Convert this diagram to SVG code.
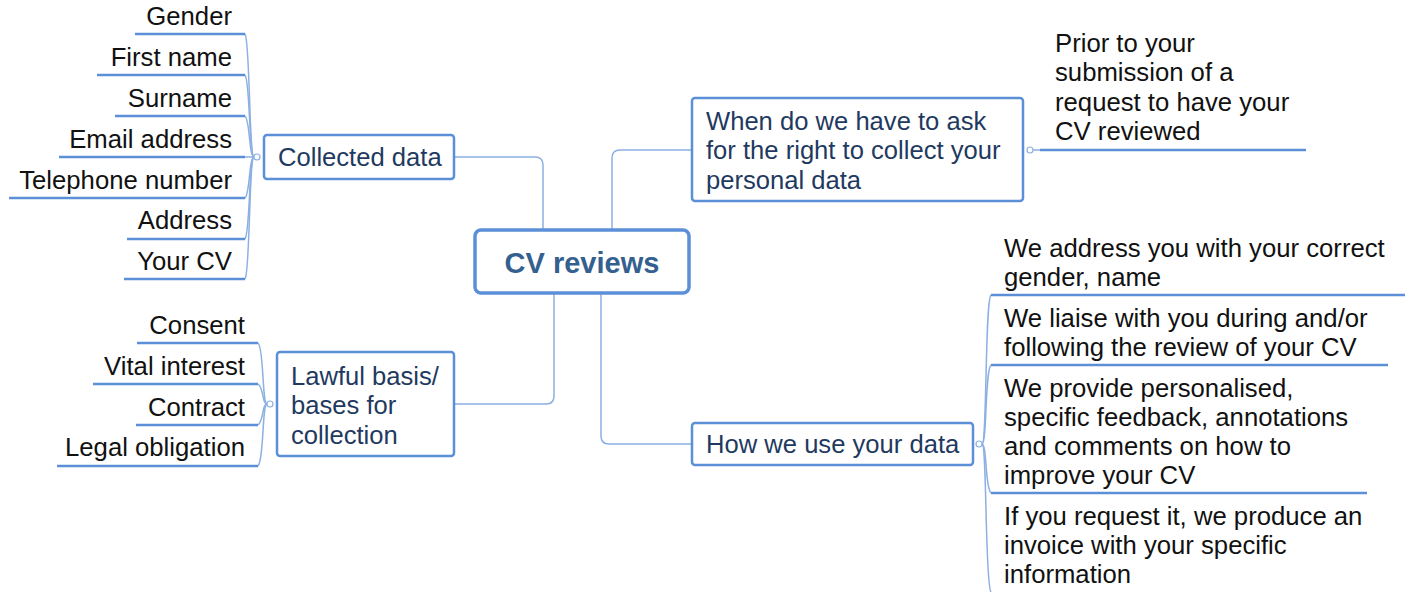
<svg xmlns="http://www.w3.org/2000/svg" width="1411" height="592" viewBox="0 0 1411 592">
<style>
.box{fill:#fff;stroke:#5b8fd8;stroke-width:2.5}
.root{fill:#fff;stroke:#5b8fd8;stroke-width:3.5}
.bt{font-family:"Liberation Sans",Arial,sans-serif;font-size:25.6px;fill:#1f3a60}
.rt{font-family:"Liberation Sans",Arial,sans-serif;font-size:29px;font-weight:bold;fill:#34608f}
.lt{font-family:"Liberation Sans",Arial,sans-serif;font-size:25.7px;fill:#111}
.r{text-anchor:end}
.ul{stroke:#5b8fd8;stroke-width:2.5;fill:none}
.cn{stroke:#8cb0e2;stroke-width:1.5;fill:none}
.dot{fill:#fff;stroke:#8cb0e2;stroke-width:1.2}
</style>
<rect width="1411" height="592" fill="#fff"/>
<g id="connectors">
<path class="cn" d="M454,157 H535 Q543,157 543,165 V230"/>
<path class="cn" d="M692,150 H620 Q612,150 612,158 V230"/>
<path class="cn" d="M454,404 H546 Q554,404 554,396 V293"/>
<path class="cn" d="M692,444 H609 Q601,444 601,436 V293"/>
<path class="cn" d="M254,157 C249,157 250,40 245,34"/>
<path class="cn" d="M254,157 C249,157 250,80 245,75"/>
<path class="cn" d="M254,157 C249,157 250,120 245,116"/>
<path class="cn" d="M254,157 H245"/>
<path class="cn" d="M254,157 C249,157 250,194 245,198"/>
<path class="cn" d="M254,157 C249,157 250,234 245,239"/>
<path class="cn" d="M254,157 C249,157 250,274 245,279"/>
<circle class="dot" cx="257" cy="157" r="3"/>
<path class="cn" d="M267,404 C262,404 264,348 258,343"/>
<path class="cn" d="M267,404 C262,404 264,388 258,384"/>
<path class="cn" d="M267,404 C262,404 264,420 258,425"/>
<path class="cn" d="M267,404 C262,404 264,461 258,466"/>
<circle class="dot" cx="270" cy="404" r="3"/>
<path class="cn" d="M1033,150 H1040"/>
<circle class="dot" cx="1030" cy="150" r="3"/>
<path class="cn" d="M982,444 C987,444 985,300 991,295"/>
<path class="cn" d="M982,444 C987,444 985,370 991,365"/>
<path class="cn" d="M982,444 C987,444 985,488 991,493"/>
<path class="cn" d="M982,444 C987,444 985,585 991,592"/>
<circle class="dot" cx="979" cy="444" r="3"/>
</g>
<g id="root">
<rect class="root" x="475" y="230" width="214" height="63" rx="6"/>
<text class="rt" x="582" y="273" text-anchor="middle">CV reviews</text>
</g>
<g id="collected">
<rect class="box" x="264" y="135" width="190" height="44" rx="3"/>
<text class="bt" x="278" y="166">Collected data</text>
</g>
<g id="when">
<rect class="box" x="692" y="98" width="331" height="103" rx="3"/>
<text class="bt" x="706" y="130">When do we have to ask</text>
<text class="bt" x="706" y="159">for the right to collect your</text>
<text class="bt" x="706" y="189">personal data</text>
</g>
<g id="lawful">
<rect class="box" x="277" y="352" width="177" height="104" rx="3"/>
<text class="bt" x="291" y="385">Lawful basis/</text>
<text class="bt" x="291" y="414">bases for</text>
<text class="bt" x="291" y="444">collection</text>
</g>
<g id="how">
<rect class="box" x="692" y="423" width="281" height="42" rx="3"/>
<text class="bt" x="706" y="453">How we use your data</text>
</g>
<g id="c-gender"><text class="lt r" x="232" y="25">Gender</text><path class="ul" d="M135,34 H245"/></g>
<g id="c-first"><text class="lt r" x="232" y="66">First name</text><path class="ul" d="M97,75 H245"/></g>
<g id="c-surname"><text class="lt r" x="232" y="107">Surname</text><path class="ul" d="M115,116 H245"/></g>
<g id="c-email"><text class="lt r" x="232" y="148">Email address</text><path class="ul" d="M59,157 H245"/></g>
<g id="c-tel"><text class="lt r" x="232" y="189">Telephone number</text><path class="ul" d="M9,198 H245"/></g>
<g id="c-address"><text class="lt r" x="232" y="229">Address</text><path class="ul" d="M127,239 H245"/></g>
<g id="c-cv"><text class="lt r" x="232" y="270">Your CV</text><path class="ul" d="M124,279 H245"/></g>
<g id="l-consent"><text class="lt r" x="245" y="334">Consent</text><path class="ul" d="M137,343 H258"/></g>
<g id="l-vital"><text class="lt r" x="245" y="375">Vital interest</text><path class="ul" d="M93,384 H258"/></g>
<g id="l-contract"><text class="lt r" x="245" y="416">Contract</text><path class="ul" d="M136,425 H258"/></g>
<g id="l-legal"><text class="lt r" x="245" y="456">Legal obligation</text><path class="ul" d="M57,466 H258"/></g>
<g id="w-prior">
<text class="lt" x="1055" y="52">Prior to your</text>
<text class="lt" x="1055" y="81">submission of a</text>
<text class="lt" x="1055" y="111">request to have your</text>
<text class="lt" x="1055" y="140">CV reviewed</text>
<path class="ul" d="M1040,150 H1306"/>
</g>
<g id="h-address">
<text class="lt" x="1004" y="257">We address you with your correct</text>
<text class="lt" x="1004" y="286">gender, name</text>
<path class="ul" d="M991,295 H1405"/>
</g>
<g id="h-liaise">
<text class="lt" x="1004" y="327">We liaise with you during and/or</text>
<text class="lt" x="1004" y="356">following the review of your CV</text>
<path class="ul" d="M991,365 H1388"/>
</g>
<g id="h-feedback">
<text class="lt" x="1004" y="397">We provide personalised,</text>
<text class="lt" x="1004" y="426">specific feedback, annotations</text>
<text class="lt" x="1004" y="455">and comments on how to</text>
<text class="lt" x="1004" y="484">improve your CV</text>
<path class="ul" d="M991,493 H1367"/>
</g>
<g id="h-invoice">
<text class="lt" x="1004" y="525">If you request it, we produce an</text>
<text class="lt" x="1004" y="554">invoice with your specific</text>
<text class="lt" x="1004" y="583">information</text>
</g>
</svg>
